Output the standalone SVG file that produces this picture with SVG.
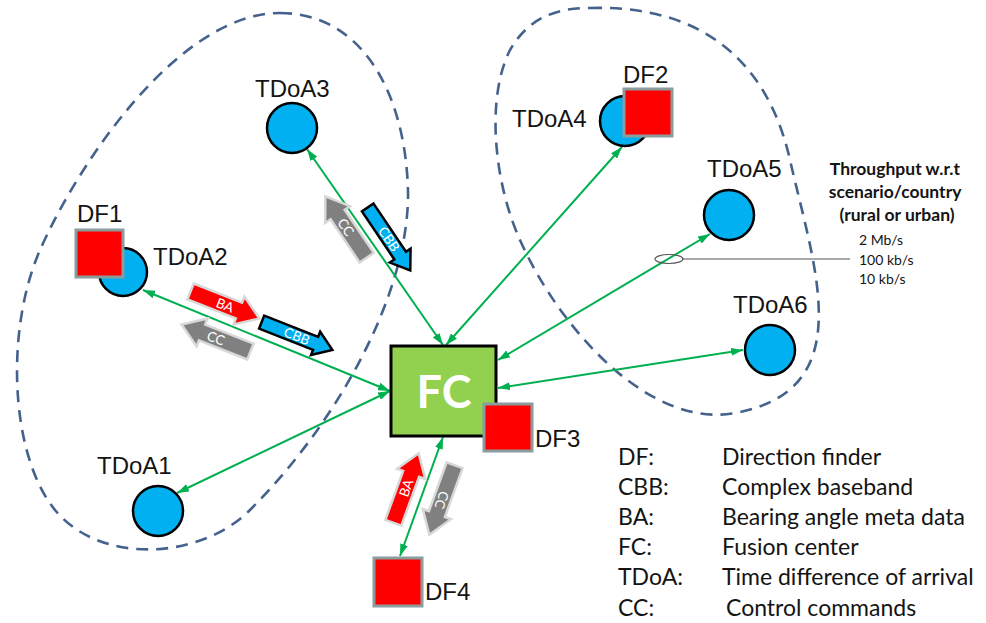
<svg xmlns="http://www.w3.org/2000/svg" width="986" height="623" viewBox="0 0 986 623">
  <defs>
    <marker id="tip" viewBox="0 0 12 8" refX="12" refY="4" markerWidth="12" markerHeight="8" markerUnits="userSpaceOnUse" orient="auto-start-reverse">
      <path d="M0,0 L12,4 L0,8 Z" fill="#00b050"/>
    </marker>
    <path id="fat" d="M-37,-8.5 H15 V-15 L37,0 L15,15 V8.5 H-37 Z"/>
    <path id="thin" d="M-38,-7 H20 V-12.5 L38,0 L20,12.5 V7 H-38 Z"/>
  </defs>
  <style>
    .region { fill: none; stroke: #44628c; stroke-width: 2.6; stroke-dasharray: 12 8; }
    .link { fill: none; stroke: #00b050; stroke-width: 2; marker-start: url(#tip); marker-end: url(#tip); }
    .sensor { fill: #00b0f0; stroke: #000; stroke-width: 2.5; }
    .df { fill: #ff0000; stroke: #8a9c9e; stroke-width: 3; }
    .name { font-family: "Liberation Sans", Arial, sans-serif; font-size: 24px; fill: #141414; }
    .ba { fill: #ff0000; stroke: #d8d8d8; stroke-width: 2.5; }
    .cc { fill: #808080; stroke: #d8d8d8; stroke-width: 2.5; }
    .cbb { fill: #00b0f0; stroke: #000; stroke-width: 2.5; }
    .tag { font-family: Lato, "Open Sans", sans-serif; font-size: 13.5px; fill: #fff; text-anchor: middle; dominant-baseline: central; }
    .legend { font-family: Lato, "Open Sans", sans-serif; font-size: 23px; fill: #141414; }
    .note { font-family: Lato, "Open Sans", sans-serif; fill: #141414; }
  </style>
  <rect width="986" height="623" fill="#fff"/>

  <!-- dashed clusters -->
  <g id="clusters">
    <path class="region" d="M280,13 C360,13 405,90 408,190 C410,290 340,420 250,510 C200,560 100,565 55,510 C10,455 5,330 40,250 C80,160 180,13 280,13 Z"/>
    <path class="region" d="M590,8 C690,5 765,50 790,160 C815,270 860,390 735,413 C650,429 560,330 520,240 C495,185 485,100 510,50 C530,15 560,8 590,8 Z"/>
  </g>

  <!-- links between sensors and the fusion center -->
  <g id="connectors">
    <line class="link" x1="143" y1="290" x2="390" y2="391"/>
    <line class="link" x1="177" y1="493" x2="390" y2="391"/>
    <line class="link" x1="307" y1="149" x2="443" y2="345"/>
    <line class="link" x1="622" y1="147" x2="446" y2="345"/>
    <line class="link" x1="710" y1="234" x2="498" y2="360"/>
    <line class="link" x1="743" y1="350" x2="498" y2="388"/>
    <line class="link" x1="400" y1="556" x2="443" y2="437"/>
    <!-- throughput tap -->
    <line x1="682" y1="259" x2="850" y2="259" stroke="#8c8c8c" stroke-width="1.5"/>
    <ellipse cx="669" cy="259" rx="14" ry="4.5" fill="none" stroke="#555" stroke-width="1.2"/>
  </g>

  <!-- data flow arrows -->
  <g id="flows">
    <g transform="translate(225,305) rotate(21.5)">
      <use href="#fat" class="ba"/>
      <text class="tag">BA</text>
    </g>
    <g transform="translate(297,336) rotate(21.5)">
      <use href="#thin" class="cbb"/>
      <text class="tag">CBB</text>
    </g>
    <g transform="translate(216,338) rotate(21.5)">
      <use href="#fat" class="cc" transform="rotate(180)"/>
      <text class="tag">CC</text>
    </g>
    <g transform="translate(346,227) rotate(56)">
      <use href="#fat" class="cc" transform="rotate(180)"/>
      <text class="tag">CC</text>
    </g>
    <g transform="translate(389,239) rotate(56)">
      <use href="#thin" class="cbb"/>
      <text class="tag">CBB</text>
    </g>
    <g transform="translate(406,488) rotate(-70)">
      <use href="#fat" class="ba"/>
      <text class="tag">BA</text>
    </g>
    <g transform="translate(442,500) rotate(110)">
      <use href="#fat" class="cc"/>
      <text class="tag">CC</text>
    </g>
  </g>

  <!-- sensors -->
  <g id="tdoa3">
    <circle class="sensor" cx="292" cy="128" r="25"/>
    <text class="name" x="255" y="97">TDoA3</text>
  </g>
  <g id="tdoa2">
    <circle class="sensor" cx="123" cy="272" r="24"/>
    <text class="name" x="153" y="265">TDoA2</text>
  </g>
  <g id="df1">
    <rect class="df" x="76" y="230" width="47" height="47"/>
    <text class="name" x="77" y="222">DF1</text>
  </g>
  <g id="tdoa1">
    <circle class="sensor" cx="158" cy="511" r="25"/>
    <text class="name" x="97" y="474">TDoA1</text>
  </g>
  <g id="tdoa4">
    <circle class="sensor" cx="625" cy="121" r="25"/>
    <text class="name" x="512" y="127">TDoA4</text>
  </g>
  <g id="df2">
    <rect class="df" x="624" y="89" width="48" height="47"/>
    <text class="name" x="623" y="83">DF2</text>
  </g>
  <g id="tdoa5">
    <circle class="sensor" cx="729" cy="215" r="25"/>
    <text class="name" x="707" y="177">TDoA5</text>
  </g>
  <g id="tdoa6">
    <circle class="sensor" cx="770" cy="350" r="25"/>
    <text class="name" x="733" y="313">TDoA6</text>
  </g>
  <g id="fc">
    <rect x="391" y="346" width="105" height="90" fill="#92d050" stroke="#000" stroke-width="3"/>
    <text x="444" y="408" font-family="Lato, 'Open Sans', sans-serif" font-weight="bold" font-size="45" fill="#fff" text-anchor="middle">FC</text>
  </g>
  <g id="df3">
    <rect class="df" x="484" y="404" width="48" height="47"/>
    <text class="name" x="535" y="447">DF3</text>
  </g>
  <g id="df4">
    <rect class="df" x="374" y="558" width="48" height="48"/>
    <text class="name" x="425" y="600">DF4</text>
  </g>

  <!-- throughput note -->
  <g id="throughput">
    <text class="note" font-weight="bold" font-size="17.5" text-anchor="middle">
      <tspan x="897" y="175">Throughput w.r.t</tspan>
      <tspan x="897" y="198">scenario/country</tspan>
      <tspan x="897" y="221">(rural or urban)</tspan>
    </text>
    <text class="note" font-size="14">
      <tspan x="859" y="245">2 Mb/s</tspan>
      <tspan x="859" y="265">100 kb/s</tspan>
      <tspan x="859" y="284">10 kb/s</tspan>
    </text>
  </g>

  <!-- abbreviations -->
  <g id="legend" class="legend">
    <text x="618" y="465">DF:</text><text x="722" y="465">Direction finder</text>
    <text x="618" y="495">CBB:</text><text x="722" y="495">Complex baseband</text>
    <text x="618" y="525">BA:</text><text x="722" y="525">Bearing angle meta data</text>
    <text x="618" y="555">FC:</text><text x="722" y="555">Fusion center</text>
    <text x="618" y="585">TDoA:</text><text x="722" y="585">Time difference of arrival</text>
    <text x="618" y="616">CC:</text><text x="726" y="616">Control commands</text>
  </g>
</svg>
